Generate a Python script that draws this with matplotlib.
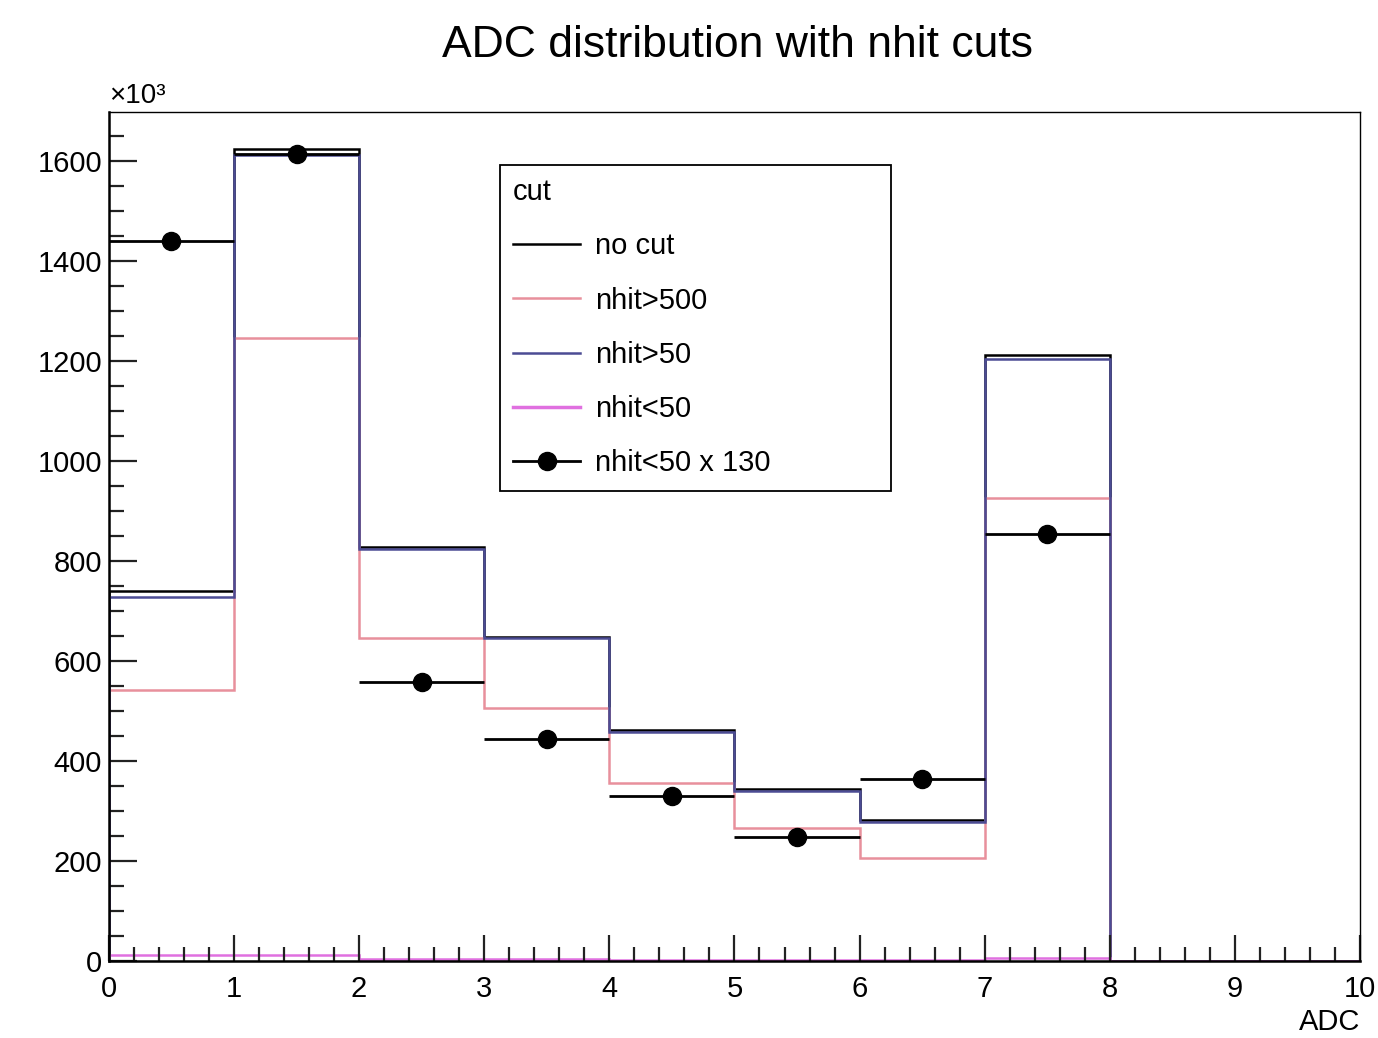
import numpy as np
import matplotlib
matplotlib.use("Agg")
import matplotlib.pyplot as plt
from matplotlib.lines import Line2D
from matplotlib.ticker import MultipleLocator

plt.rcParams['font.family'] = ['Liberation Sans', 'DejaVu Sans']

# ADC bins 0..10, counts in units of 10^3
bin_edges = np.arange(0, 11, 1)
no_cut = [740, 1624, 829, 649, 463, 344, 283, 1212, 0, 0]
nhit_gt500 = [543, 1246, 647, 506, 357, 266, 206, 926, 0, 0]
nhit_gt50 = [728, 1612, 825, 646, 458, 340, 278, 1205, 0, 0]
nhit_lt50 = [11.1, 12.4, 4.3, 3.4, 2.5, 1.9, 2.8, 6.6, 0, 0]
scale = 130
scaled_pts = [1440, 1615, 559, 445, 330, 248, 364, 854]

fig = plt.figure(figsize=(13.78, 10.38), dpi=100)
ax = fig.add_axes([0.079, 0.0742, 0.908, 0.8178])

ax.stairs(no_cut, bin_edges, color='black', lw=1.8)
ax.stairs(nhit_gt500, bin_edges, color='#e8909c', lw=1.8)
ax.stairs(nhit_gt50, bin_edges, color='#4c4c94', lw=1.8)
ax.stairs(nhit_lt50, bin_edges, color='#e070e0', lw=1.8)

centers = (bin_edges[:-1] + 0.5)[:len(scaled_pts)]
ax.errorbar(centers, scaled_pts, xerr=0.5, fmt='o', color='black',
            ms=13, lw=2, capsize=0)

ax.set_xlim(0, 10)
ax.set_ylim(0, 1698)
ax.xaxis.set_major_locator(MultipleLocator(1))
ax.xaxis.set_minor_locator(MultipleLocator(0.2))
ax.yaxis.set_major_locator(MultipleLocator(200))
ax.yaxis.set_minor_locator(MultipleLocator(50))
ax.tick_params(which='both', direction='in', top=False, right=False,
               labelsize=21, width=1.6, color='#222222')
ax.tick_params(axis='x', which='major', length=19, pad=10)
ax.tick_params(axis='x', which='minor', length=10)
ax.tick_params(axis='y', which='major', length=20, pad=5)
ax.tick_params(axis='y', which='minor', length=11)
for s in ax.spines.values():
    s.set_linewidth(1.0)
ax.spines['left'].set_linewidth(1.8)
ax.spines['bottom'].set_linewidth(1.8)

ax.set_xlabel('ADC', loc='right', fontsize=21, labelpad=4)
ax.text(0.0, 1.004, '×10³', transform=ax.transAxes, fontsize=20,
        ha='left', va='bottom')
fig.suptitle('ADC distribution with nhit cuts', fontsize=32, x=0.535, y=0.976)

handles = [
    Line2D([], [], color='black', lw=1.8),
    Line2D([], [], color='#e8909c', lw=1.8),
    Line2D([], [], color='#4c4c94', lw=1.8),
    Line2D([], [], color='#e070e0', lw=2.5),
    Line2D([], [], color='black', lw=2, marker='o', ms=13),
]
labels = ['no cut', 'nhit>500', 'nhit>50', 'nhit<50', 'nhit<50 x %d' % scale]
leg = ax.legend(handles, labels, loc='upper left',
                bbox_to_anchor=(0.3125, 0.5595, 0.3125, 0.3781), mode='expand',
                title='cut', fontsize=21, title_fontsize=21,
                alignment='left', fancybox=False, edgecolor='black',
                framealpha=1, handlelength=2.3, handletextpad=0.5,
                labelspacing=0.9, borderpad=0.45, borderaxespad=0)
leg.get_frame().set_linewidth(1.3)

fig.savefig('out.png', dpi=100)
